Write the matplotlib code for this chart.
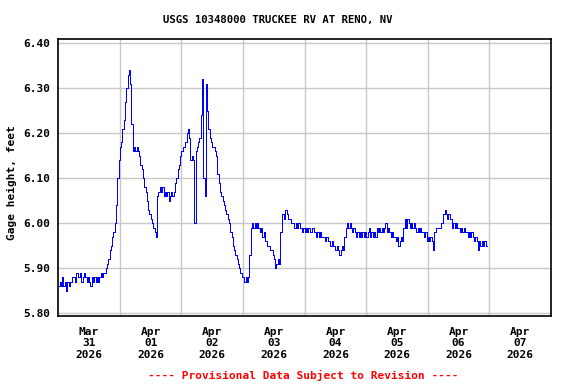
import matplotlib
matplotlib.use("Agg")
import matplotlib.pyplot as plt
import numpy as np
from datetime import datetime, timedelta

# gage height, feet, read every 30 min starting Mar 31 2026 00:00
gage = [
    5.86, 5.87, 5.86, 5.88, 5.86, 5.87, 5.85, 5.87, 5.86, 5.87, 5.87, 5.88,
    5.88, 5.87, 5.89, 5.88, 5.88, 5.89, 5.87, 5.88, 5.89, 5.88, 5.87, 5.88,
    5.87, 5.86, 5.88, 5.87, 5.88, 5.87, 5.88, 5.87, 5.88, 5.89, 5.88, 5.89,
    5.89, 5.90, 5.91, 5.92, 5.94, 5.95, 5.97, 5.98, 6.00, 6.04, 6.10, 6.14,
    6.17, 6.18, 6.21, 6.23, 6.27, 6.30, 6.33, 6.34, 6.31, 6.22, 6.16, 6.17,
    6.16, 6.17, 6.16, 6.15, 6.13, 6.12, 6.10, 6.08, 6.07, 6.05, 6.03, 6.02,
    6.01, 6.00, 5.99, 5.98, 5.97, 6.06, 6.07, 6.08, 6.07, 6.08, 6.06, 6.07,
    6.06, 6.07, 6.05, 6.06, 6.07, 6.06, 6.07, 6.09, 6.10, 6.12, 6.13, 6.15,
    6.16, 6.17, 6.17, 6.18, 6.20, 6.21, 6.19, 6.14, 6.15, 6.14, 6.00, 6.16,
    6.17, 6.18, 6.19, 6.24, 6.32, 6.10, 6.06, 6.31, 6.25, 6.21, 6.19, 6.18,
    6.17, 6.17, 6.16, 6.15, 6.11, 6.09, 6.07, 6.06, 6.05, 6.04, 6.03, 6.02,
    6.01, 6.00, 5.98, 5.97, 5.95, 5.94, 5.93, 5.92, 5.91, 5.90, 5.89, 5.88,
    5.88, 5.87, 5.88, 5.87, 5.88, 5.93, 5.99, 6.00, 5.99, 6.00, 5.99, 6.00,
    5.99, 5.98, 5.99, 5.97, 5.98, 5.96, 5.96, 5.95, 5.95, 5.94, 5.94, 5.93,
    5.92, 5.90, 5.91, 5.92, 5.91, 5.98, 6.02, 6.02, 6.01, 6.03, 6.02, 6.01,
    6.01, 6.00, 6.00, 6.00, 5.99, 6.00, 5.99, 6.00, 5.99, 5.99, 5.98, 5.99,
    5.98, 5.99, 5.98, 5.99, 5.98, 5.98, 5.99, 5.98, 5.98, 5.97, 5.98, 5.97,
    5.98, 5.97, 5.97, 5.97, 5.96, 5.97, 5.96, 5.96, 5.95, 5.96, 5.95, 5.95,
    5.94, 5.95, 5.94, 5.93, 5.94, 5.95, 5.94, 5.97, 5.99, 6.00, 5.99, 6.00,
    5.99, 5.98, 5.99, 5.98, 5.97, 5.98, 5.97, 5.98, 5.97, 5.98, 5.97, 5.98,
    5.97, 5.98, 5.99, 5.97, 5.98, 5.97, 5.98, 5.97, 5.99, 5.98, 5.99, 5.98,
    5.99, 5.98, 5.99, 6.00, 5.98, 5.99, 5.98, 5.97, 5.98, 5.97, 5.97, 5.96,
    5.97, 5.95, 5.96, 5.97, 5.96, 5.99, 6.01, 5.99, 6.01, 6.00, 5.99, 6.00,
    5.99, 6.00, 5.99, 5.98, 5.99, 5.98, 5.99, 5.98, 5.98, 5.97, 5.98, 5.96,
    5.97, 5.96, 5.97, 5.96, 5.94, 5.98, 5.99, 5.99, 5.99, 5.99, 6.00, 6.00,
    6.02, 6.03, 6.02, 6.01, 6.02, 6.01, 6.01, 5.99, 6.00, 5.99, 6.00, 5.99,
    5.99, 5.98, 5.99, 5.98, 5.99, 5.98, 5.98, 5.97, 5.98, 5.97, 5.98, 5.97,
    5.96, 5.97, 5.96, 5.94, 5.96, 5.95, 5.96, 5.95, 5.96, 5.95, 5.95,
]
start = datetime(2026, 3, 31)
times = [start + timedelta(minutes=30 * i) for i in range(len(gage))]

day_labels = ["Mar\n31\n2026", "Apr\n01\n2026", "Apr\n02\n2026", "Apr\n03\n2026",
              "Apr\n04\n2026", "Apr\n05\n2026", "Apr\n06\n2026", "Apr\n07\n2026"]
y_ticks = [5.80, 5.90, 6.00, 6.10, 6.20, 6.30, 6.40]

font = "DejaVu Sans Mono"

fig = plt.figure(figsize=(5.76, 3.84), dpi=100)
ax = fig.add_axes([58.3 / 576, 68 / 384, 492.7 / 576, 276.7 / 384])

ax.plot(times, gage, color="#0000ff", linewidth=0.5, drawstyle="steps-post",
        antialiased=False)

ax.set_xlim(start, start + timedelta(days=8))
ax.set_ylim(5.794, 6.409)

# grid at midnight, labels at noon
midnights = [start + timedelta(days=d) for d in range(1, 8)]
noons = [start + timedelta(days=d, hours=12) for d in range(8)]
ax.set_xticks(midnights, minor=True)
ax.set_xticks(noons)
ax.set_xticklabels(day_labels, fontfamily=font, fontweight="bold", fontsize=8,
                   linespacing=1.15)
ax.set_yticks(y_ticks)
ax.set_yticklabels(["%.2f" % v for v in y_ticks], fontfamily=font,
                   fontweight="bold", fontsize=8)
ax.tick_params(axis="both", which="both", length=0)
ax.tick_params(axis="x", pad=8)
ax.tick_params(axis="y", pad=6)

ax.grid(True, which="minor", axis="x", color="#c8c8c8", linewidth=1.0)
ax.grid(True, which="major", axis="y", color="#c8c8c8", linewidth=1.0)
ax.grid(False, which="major", axis="x")
ax.set_axisbelow(True)
for s in ax.spines.values():
    s.set_color("black")
    s.set_linewidth(1.2)

fig.text(277.5 / 576, 1 - 20 / 384, "USGS 10348000 TRUCKEE RV AT RENO, NV",
         ha="center", va="center", fontfamily=font, fontweight="bold", fontsize=7.7)
fig.text(12 / 576, 1 - 183 / 384, "Gage height, feet", rotation=90,
         ha="center", va="center", fontfamily=font, fontweight="bold", fontsize=8)
fig.text(303.5 / 576, 1 - 375 / 384, "---- Provisional Data Subject to Revision ----",
         ha="center", va="center", color="red", fontfamily=font,
         fontweight="bold", fontsize=8)

fig.savefig("out.png", dpi=100)
